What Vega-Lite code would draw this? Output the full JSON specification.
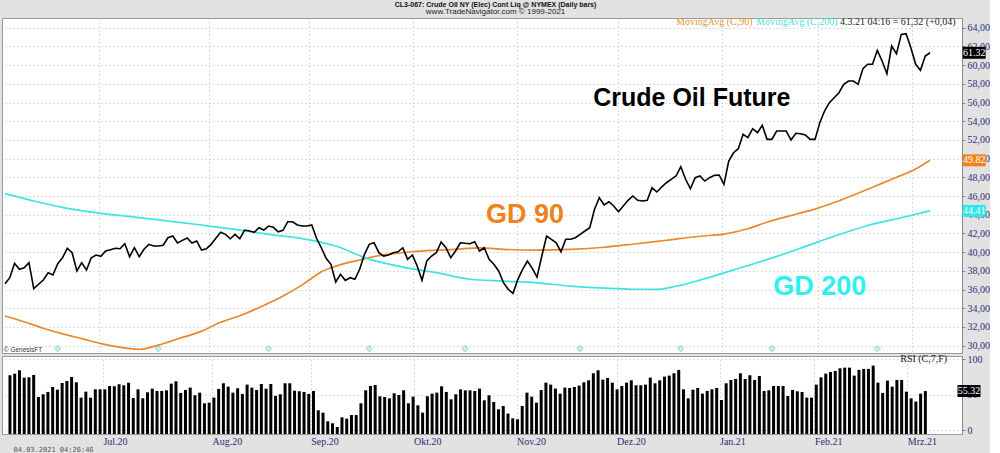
{
  "$schema": "https://vega.github.io/schema/vega-lite/v6.json",
  "background": "#e2e2e2",
  "padding": {"left": 1, "top": 0, "right": 0, "bottom": 0},
  "spacing": 3,
  "bounds": "flush",
  "config": {
    "view": {"fill": "white", "stroke": "#9a9a9a", "strokeWidth": 1},
    "font": "Liberation Serif",
    "axis": {"labelOverlap": false, "labelBound": false, "labelFlush": false}
  },
  "title": {
    "text": "CL3-067:  Crude Oil NY (Elec) Cont Liq @ NYMEX  (Daily bars)",
    "subtitle": "www.TradeNavigator.com © 1999-2021",
    "font": "Liberation Sans", "fontSize": 7, "fontWeight": "bold", "color": "#111111",
    "subtitleFont": "Liberation Sans", "subtitleFontSize": 8, "subtitleColor": "#222222",
    "subtitlePadding": 0, "offset": 1, "anchor": "middle"
  },
  "datasets": {
    "bars": [
      {"i":0,"close":36.62,"rsi":77.5},{"i":1,"close":37.26,"rsi":79.7},{"i":2,"close":38.80,"rsi":84.5},{"i":3,"close":38.16,"rsi":74.1},{"i":4,"close":38.33,"rsi":74.6},
      {"i":5,"close":38.87,"rsi":77.9},{"i":6,"close":36.09,"rsi":46.9},{"i":7,"close":36.56,"rsi":50.7},{"i":8,"close":37.02,"rsi":54.0},{"i":9,"close":37.80,"rsi":61.0},
      {"i":10,"close":37.55,"rsi":57.2},{"i":11,"close":38.76,"rsi":66.6},{"i":12,"close":39.40,"rsi":69.4},{"i":13,"close":40.41,"rsi":75.1},{"i":14,"close":39.94,"rsi":67.6},
      {"i":15,"close":37.98,"rsi":46.0},{"i":16,"close":38.87,"rsi":54.4},{"i":17,"close":38.09,"rsi":46.0},{"i":18,"close":39.40,"rsi":57.7},{"i":19,"close":39.69,"rsi":57.7},
      {"i":20,"close":39.55,"rsi":57.7},{"i":21,"close":40.12,"rsi":62.4},{"i":22,"close":40.26,"rsi":62.0},{"i":23,"close":40.41,"rsi":64.8},{"i":24,"close":40.36,"rsi":63.4},
      {"i":25,"close":40.90,"rsi":67.1},{"i":26,"close":39.51,"rsi":45.5},{"i":27,"close":40.47,"rsi":57.7},{"i":28,"close":39.51,"rsi":45.1},{"i":29,"close":40.30,"rsi":53.5},
      {"i":30,"close":40.83,"rsi":58.6},{"i":31,"close":40.65,"rsi":55.4},{"i":32,"close":40.65,"rsi":55.4},{"i":33,"close":40.73,"rsi":56.3},{"i":34,"close":41.54,"rsi":65.7},
      {"i":35,"close":41.72,"rsi":69.0},{"i":36,"close":40.97,"rsi":52.6},{"i":37,"close":41.26,"rsi":56.8},{"i":38,"close":41.51,"rsi":60.1},{"i":39,"close":40.97,"rsi":49.3},
      {"i":40,"close":41.19,"rsi":53.0},{"i":41,"close":40.22,"rsi":38.0},{"i":42,"close":40.36,"rsi":38.9},{"i":43,"close":40.83,"rsi":46.0},{"i":44,"close":41.48,"rsi":58.2},
      {"i":45,"close":42.12,"rsi":66.2},{"i":46,"close":41.90,"rsi":61.5},{"i":47,"close":41.43,"rsi":53.0},{"i":48,"close":41.90,"rsi":59.2},{"i":49,"close":41.43,"rsi":51.2},
      {"i":50,"close":42.36,"rsi":64.3},{"i":51,"close":42.26,"rsi":60.1},{"i":52,"close":42.12,"rsi":56.8},{"i":53,"close":42.61,"rsi":65.2},{"i":54,"close":42.36,"rsi":58.6},
      {"i":55,"close":42.79,"rsi":65.2},{"i":56,"close":42.65,"rsi":48.4},{"i":57,"close":42.18,"rsi":50.7},{"i":58,"close":42.33,"rsi":66.2},{"i":59,"close":43.25,"rsi":66.2},
      {"i":60,"close":43.25,"rsi":55.8},{"i":61,"close":42.90,"rsi":55.0},{"i":62,"close":42.79,"rsi":54.0},{"i":63,"close":42.79,"rsi":51.2},{"i":64,"close":42.90,"rsi":55.4},
      {"i":65,"close":41.48,"rsi":28.2},{"i":66,"close":40.47,"rsi":24.8},{"i":67,"close":39.34,"rsi":12.7},{"i":68,"close":38.70,"rsi":9.9},{"i":69,"close":36.80,"rsi":4.7},
      {"i":70,"close":37.63,"rsi":18.3},{"i":71,"close":36.98,"rsi":16.4},{"i":72,"close":37.26,"rsi":21.6},{"i":73,"close":37.09,"rsi":21.6},{"i":74,"close":38.16,"rsi":38.0},
      {"i":75,"close":39.76,"rsi":56.3},{"i":76,"close":40.83,"rsi":62.4},{"i":77,"close":41.00,"rsi":63.8},{"i":78,"close":39.94,"rsi":47.9},{"i":79,"close":39.58,"rsi":46.9},
      {"i":80,"close":39.69,"rsi":45.0},{"i":81,"close":39.94,"rsi":52.1},{"i":82,"close":40.04,"rsi":49.7},{"i":83,"close":40.47,"rsi":56.3},{"i":84,"close":39.23,"rsi":38.0},
      {"i":85,"close":39.69,"rsi":47.4},{"i":86,"close":38.51,"rsi":35.2},{"i":87,"close":36.98,"rsi":24.9},{"i":88,"close":39.05,"rsi":47.9},{"i":89,"close":39.58,"rsi":51.6},
      {"i":90,"close":39.94,"rsi":53.0},{"i":91,"close":41.08,"rsi":61.9},{"i":92,"close":40.47,"rsi":54.0},{"i":93,"close":39.40,"rsi":43.6},{"i":94,"close":40.12,"rsi":50.7},
      {"i":95,"close":41.00,"rsi":57.7},{"i":96,"close":40.94,"rsi":56.3},{"i":97,"close":40.90,"rsi":56.3},{"i":98,"close":41.11,"rsi":55.4},{"i":99,"close":40.12,"rsi":58.7},
      {"i":100,"close":40.47,"rsi":42.2},{"i":101,"close":39.23,"rsi":49.3},{"i":102,"close":38.70,"rsi":39.9},{"i":103,"close":37.98,"rsi":29.6},{"i":104,"close":36.73,"rsi":34.2},
      {"i":105,"close":36.02,"rsi":23.5},{"i":106,"close":35.59,"rsi":16.9},{"i":107,"close":37.09,"rsi":15.5},{"i":108,"close":38.16,"rsi":34.2},{"i":109,"close":39.05,"rsi":53.0},
      {"i":110,"close":38.27,"rsi":47.4},{"i":111,"close":37.33,"rsi":38.9},{"i":112,"close":39.58,"rsi":56.8},{"i":113,"close":41.72,"rsi":67.1},{"i":114,"close":41.37,"rsi":64.3},
      {"i":115,"close":41.00,"rsi":58.7},{"i":116,"close":40.04,"rsi":51.6},{"i":117,"close":41.37,"rsi":60.1},{"i":118,"close":41.37,"rsi":59.6},{"i":119,"close":41.54,"rsi":61.0},
      {"i":120,"close":41.90,"rsi":62.9},{"i":121,"close":42.26,"rsi":67.6},{"i":122,"close":42.61,"rsi":70.4},{"i":123,"close":44.58,"rsi":80.3},{"i":124,"close":45.82,"rsi":84.5},
      {"i":125,"close":45.04,"rsi":71.3},{"i":126,"close":45.39,"rsi":73.7},{"i":127,"close":44.93,"rsi":67.1},{"i":128,"close":44.32,"rsi":57.7},{"i":129,"close":44.93,"rsi":62.4},
      {"i":130,"close":45.54,"rsi":67.1},{"i":131,"close":46.00,"rsi":70.4},{"i":132,"close":45.54,"rsi":63.4},{"i":133,"close":45.47,"rsi":63.4},{"i":134,"close":45.54,"rsi":64.3},
      {"i":135,"close":46.89,"rsi":74.2},{"i":136,"close":46.43,"rsi":66.2},{"i":137,"close":46.96,"rsi":70.4},{"i":138,"close":47.42,"rsi":75.6},{"i":139,"close":47.79,"rsi":77.0},
      {"i":140,"close":48.14,"rsi":80.3},{"i":141,"close":49.13,"rsi":85.0},{"i":142,"close":47.79,"rsi":57.7},{"i":143,"close":46.78,"rsi":45.0},{"i":144,"close":47.96,"rsi":57.2},
      {"i":145,"close":48.14,"rsi":59.6},{"i":146,"close":47.60,"rsi":51.6},{"i":147,"close":47.96,"rsi":55.4},{"i":148,"close":48.21,"rsi":57.7},{"i":149,"close":48.25,"rsi":59.6},
      {"i":150,"close":47.25,"rsi":42.7},{"i":151,"close":49.74,"rsi":66.2},{"i":152,"close":50.63,"rsi":70.9},{"i":153,"close":51.06,"rsi":72.3},{"i":154,"close":52.60,"rsi":80.3},
      {"i":155,"close":52.24,"rsi":72.3},{"i":156,"close":53.20,"rsi":77.5},{"i":157,"close":52.77,"rsi":70.9},{"i":158,"close":53.56,"rsi":76.5},{"i":159,"close":52.06,"rsi":55.4},
      {"i":160,"close":52.06,"rsi":56.3},{"i":161,"close":52.95,"rsi":62.4},{"i":162,"close":52.95,"rsi":62.4},{"i":163,"close":52.95,"rsi":62.4},{"i":164,"close":51.99,"rsi":48.3},
      {"i":165,"close":52.71,"rsi":56.8},{"i":166,"close":52.66,"rsi":54.9},{"i":167,"close":52.52,"rsi":54.0},{"i":168,"close":52.06,"rsi":46.0},{"i":169,"close":52.06,"rsi":46.0},
      {"i":170,"close":53.84,"rsi":64.3},{"i":171,"close":55.09,"rsi":74.6},{"i":172,"close":55.98,"rsi":79.8},{"i":173,"close":56.51,"rsi":82.1},{"i":174,"close":57.05,"rsi":83.5},
      {"i":175,"close":57.95,"rsi":87.3},{"i":176,"close":58.30,"rsi":88.2},{"i":177,"close":58.30,"rsi":88.2},{"i":178,"close":57.95,"rsi":77.0},{"i":179,"close":59.61,"rsi":85.0},
      {"i":180,"close":60.09,"rsi":86.4},{"i":181,"close":60.09,"rsi":86.4},{"i":182,"close":61.58,"rsi":91.1},{"i":183,"close":60.44,"rsi":67.1},{"i":184,"close":59.08,"rsi":52.6},
      {"i":185,"close":62.04,"rsi":69.9},{"i":186,"close":61.22,"rsi":61.5},{"i":187,"close":63.29,"rsi":70.9},{"i":188,"close":63.36,"rsi":70.9},{"i":189,"close":61.86,"rsi":54.4},
      {"i":190,"close":60.09,"rsi":45.0},{"i":191,"close":59.44,"rsi":40.4},{"i":192,"close":60.97,"rsi":51.6},{"i":193,"close":61.32,"rsi":55.32}
    ],
    "ma90": [
      {"i":0,"v":33.17},{"i":4,"v":32.55},{"i":8,"v":31.86},{"i":12,"v":31.26},{"i":16,"v":30.75},{"i":20,"v":30.22},{"i":24,"v":29.83},{"i":28,"v":29.60},
      {"i":32,"v":30.05},{"i":36,"v":30.71},{"i":41,"v":31.55},{"i":45,"v":32.5},{"i":49,"v":33.2},{"i":54,"v":34.3},{"i":58,"v":35.3},{"i":62,"v":36.5},
      {"i":64,"v":37.2},{"i":66,"v":37.9},{"i":68,"v":38.33},{"i":70,"v":38.66},{"i":72,"v":38.93},{"i":75,"v":39.28},{"i":77,"v":39.52},{"i":79,"v":39.7},
      {"i":81,"v":39.84},{"i":85,"v":40.04},{"i":90,"v":40.2},{"i":94,"v":40.3},{"i":99,"v":40.45},{"i":104,"v":40.3},{"i":111,"v":40.22},{"i":118,"v":40.3},
      {"i":125,"v":40.52},{"i":131,"v":40.84},{"i":138,"v":41.27},{"i":145,"v":41.7},{"i":150,"v":41.93},{"i":155,"v":42.5},{"i":159,"v":43.2},{"i":165,"v":44.05},
      {"i":169,"v":44.6},{"i":173,"v":45.3},{"i":177,"v":46.1},{"i":182,"v":47.15},{"i":186,"v":48.0},{"i":190,"v":48.88},{"i":193,"v":49.82}
    ],
    "ma200": [
      {"i":0,"v":46.25},{"i":6,"v":45.47},{"i":13,"v":44.68},{"i":20,"v":44.15},{"i":27,"v":43.75},{"i":34,"v":43.33},{"i":41,"v":42.9},{"i":48,"v":42.44},
      {"i":55,"v":41.9},{"i":62,"v":41.45},{"i":69,"v":40.65},{"i":76,"v":39.25},{"i":83,"v":38.4},{"i":90,"v":37.8},{"i":97,"v":37.1},{"i":104,"v":36.9},
      {"i":111,"v":36.72},{"i":118,"v":36.36},{"i":125,"v":36.15},{"i":131,"v":36.03},{"i":136,"v":36.02},{"i":140,"v":36.35},{"i":145,"v":37.0},{"i":152,"v":38.1},
      {"i":159,"v":39.2},{"i":166,"v":40.42},{"i":173,"v":41.7},{"i":180,"v":42.85},{"i":187,"v":43.68},{"i":193,"v":44.41}
    ],
    "tags": [
      {"series":"price","v":61.32},{"series":"ma90","v":49.82},{"series":"ma200","v":44.41}
    ],
    "events": [
      {"i":11},{"i":32},{"i":55},{"i":76},{"i":96},{"i":120},{"i":141},{"i":160},{"i":182}
    ]
  },
  "vconcat": [
    {
      "width": 960,
      "height": 335,
      "layer": [
        {
          "data": {"name": "ma90"},
          "mark": {"type": "line", "color": "#e9892a", "strokeWidth": 1.7, "interpolate": "monotone"},
          "encoding": {
            "x": {"field": "i", "type": "quantitative", "title": null,
                  "scale": {"domain": [-0.626, 199.67], "nice": false, "zero": false},
                  "axis": {"values": [19.6, 42.6, 63.4, 85.1, 106.8, 127.9, 149.6, 169.6, 189.2], "tickCount": 40, "labels": false, "ticks": false, "domain": false,
                           "minExtent": 0, "maxExtent": 0, "offset": 0, "labelPadding": 0,
                           "grid": true, "gridColor": "#b8b8b8", "gridDash": [1, 3], "gridWidth": 1}},
            "y": {"field": "v", "type": "quantitative", "title": null,
                  "scale": {"domain": [29.21, 65.04], "nice": false, "zero": false},
                  "axis": {"orient": "right", "values": [30,32,34,36,38,40,42,44,46,48,50,52,54,56,58,60,62,64], "tickCount": 40,
                           "labelExpr": "replace(format(datum.value, '.2f'), '.', ',')",
                           "labelColor": "#2d2d75", "labelFont": "Liberation Serif", "labelFontSize": 10, "labelPadding": 2,
                           "domainColor": "#8a8a8a", "tickColor": "#8a8a8a", "tickSize": 3,
                           "grid": true, "gridColor": "#b8b8b8", "gridDash": [1, 3], "gridWidth": 1, "labelOverlap": false}}
          }
        },
        {
          "data": {"name": "ma200"},
          "mark": {"type": "line", "color": "#3fe3e3", "strokeWidth": 1.7, "interpolate": "monotone"},
          "encoding": {
            "x": {"field": "i", "type": "quantitative", "title": null},
            "y": {"field": "v", "type": "quantitative", "title": null}
          }
        },
        {
          "data": {"name": "bars"},
          "mark": {"type": "line", "color": "#000000", "strokeWidth": 1.6},
          "encoding": {
            "x": {"field": "i", "type": "quantitative", "title": null},
            "y": {"field": "close", "type": "quantitative", "title": null}
          }
        },
        {
          "data": {"name": "events"},
          "mark": {"type": "point", "shape": "diamond", "filled": false, "stroke": "#6fcfcf", "strokeWidth": 1, "size": 45},
          "encoding": {
            "x": {"field": "i", "type": "quantitative", "title": null},
            "y": {"datum": 29.68, "type": "quantitative"}
          }
        },
        {
          "data": {"name": "events"},
          "mark": {"type": "point", "shape": "cross", "filled": false, "stroke": "#6fcfcf", "strokeWidth": 0.8, "size": 12},
          "encoding": {
            "x": {"field": "i", "type": "quantitative", "title": null},
            "y": {"datum": 29.68, "type": "quantitative"}
          }
        },
        {
          "data": {"values": [{"label": "© GenesisFT"}]},
          "mark": {"type": "text", "font": "Liberation Sans", "fontSize": 6.5, "color": "#333333", "align": "left", "baseline": "middle"},
          "encoding": {"x": {"datum": -0.25, "type": "quantitative"}, "y": {"datum": 29.5, "type": "quantitative"}, "text": {"field": "label"}}
        },
        {
          "data": {"values": [{"label": "Crude Oil Future"}]},
          "mark": {"type": "text", "font": "Liberation Sans", "fontWeight": "bold", "fontSize": 25, "color": "#000000", "align": "center", "baseline": "middle"},
          "encoding": {"x": {"datum": 143.3, "type": "quantitative"}, "y": {"datum": 56.48, "type": "quantitative"}, "text": {"field": "label"}}
        },
        {
          "data": {"values": [{"label": "GD 90"}]},
          "mark": {"type": "text", "font": "Liberation Sans", "fontWeight": "bold", "fontSize": 27, "color": "#f0821e", "align": "center", "baseline": "middle"},
          "encoding": {"x": {"datum": 108.5, "type": "quantitative"}, "y": {"datum": 43.97, "type": "quantitative"}, "text": {"field": "label"}}
        },
        {
          "data": {"values": [{"label": "GD 200"}]},
          "mark": {"type": "text", "font": "Liberation Sans", "fontWeight": "bold", "fontSize": 27, "color": "#2ff0f0", "align": "center", "baseline": "middle"},
          "encoding": {"x": {"datum": 170.0, "type": "quantitative"}, "y": {"datum": 36.27, "type": "quantitative"}, "text": {"field": "label"}}
        },
        {
          "data": {"values": [{"label": "MovingAvg (C,90)"}]},
          "mark": {"type": "text", "font": "Liberation Serif", "fontSize": 10, "color": "#e8902e", "align": "left", "baseline": "middle"},
          "encoding": {"x": {"datum": 140.0, "type": "quantitative"}, "y": {"datum": 64.61, "type": "quantitative"}, "text": {"field": "label"}}
        },
        {
          "data": {"values": [{"label": "MovingAvg (C,200)"}]},
          "mark": {"type": "text", "font": "Liberation Serif", "fontSize": 10, "color": "#4fdede", "align": "left", "baseline": "middle"},
          "encoding": {"x": {"datum": 156.7, "type": "quantitative"}, "y": {"datum": 64.61, "type": "quantitative"}, "text": {"field": "label"}}
        },
        {
          "data": {"values": [{"label": "4.3.21 04:16 = 61,32 (+0,04)"}]},
          "mark": {"type": "text", "font": "Liberation Serif", "fontSize": 10, "color": "#222222", "align": "left", "baseline": "middle"},
          "encoding": {"x": {"datum": 174.2, "type": "quantitative"}, "y": {"datum": 64.61, "type": "quantitative"}, "text": {"field": "label"}}
        },
        {
          "data": {"name": "tags"},
          "mark": {"type": "point", "shape": "M-1,-0.52L1,-0.52L1,0.52L-1,0.52Z", "filled": true, "opacity": 1, "size": 529, "strokeWidth": 0},
          "encoding": {
            "x": {"datum": 202.2, "type": "quantitative"},
            "y": {"field": "v", "type": "quantitative", "title": null},
            "color": {"field": "series", "type": "nominal", "legend": null,
                      "scale": {"domain": ["price", "ma90", "ma200"], "range": ["#000000", "#f0821e", "#2fe8e8"]}}
          }
        },
        {
          "data": {"name": "tags"},
          "mark": {"type": "text", "font": "Liberation Serif", "fontSize": 10, "color": "#ffffff", "align": "center", "baseline": "middle"},
          "encoding": {
            "x": {"datum": 202.2, "type": "quantitative"},
            "y": {"field": "v", "type": "quantitative", "title": null},
            "text": {"field": "v", "type": "quantitative", "format": ",.2f"}
          }
        }
      ]
    },
    {
      "width": 960,
      "height": 78,
      "layer": [
        {
          "data": {"name": "bars"},
          "mark": {"type": "bar", "color": "#000000", "width": 3},
          "encoding": {
            "x": {"field": "i", "type": "quantitative",
                  "scale": {"domain": [-0.626, 199.67], "nice": false, "zero": false},
                  "axis": {"values": [19.6, 42.6, 63.4, 85.1, 106.8, 127.9, 149.6, 169.6, 189.2], "tickCount": 40,
                           "labelExpr": "datum.value < 30 ? 'Jul.20' : datum.value < 50 ? 'Aug.20' : datum.value < 70 ? 'Sep.20' : datum.value < 90 ? 'Okt.20' : datum.value < 110 ? 'Nov.20' : datum.value < 135 ? 'Dez.20' : datum.value < 160 ? 'Jan.21' : datum.value < 180 ? 'Feb.21' : 'Mrz.21'",
                           "labelAlign": "left", "labelColor": "#2d2d75", "labelFont": "Liberation Serif", "labelFontSize": 10, "labelPadding": 2,
                           "ticks": false, "domain": false, "grid": true, "gridColor": "#b8b8b8", "gridDash": [1, 3], "labelOverlap": false,
                           "title": "04.03.2021 04:26:46", "titleFont": "DejaVu Sans Mono", "titleFontSize": 7, "titleFontWeight": "normal", "titleColor": "#555555",
                           "titleAnchor": "start", "titleAlign": "left", "titleX": 11, "titleY": 15, "titleBaseline": "middle"}},
            "y": {"field": "rsi", "type": "quantitative", "title": null,
                  "scale": {"domain": [-5.2, 104.6], "nice": false, "zero": false},
                  "axis": {"orient": "right", "values": [0, 50, 100], "tickCount": 10, "format": "d",
                           "labelColor": "#2d2d75", "labelFont": "Liberation Serif", "labelFontSize": 10, "labelPadding": 2,
                           "domainColor": "#8a8a8a", "tickColor": "#8a8a8a", "tickSize": 3,
                           "grid": true, "gridColor": "#b8b8b8", "gridDash": [1, 3]}},
            "y2": {"datum": -5.2}
          }
        },
        {
          "data": {"values": [{"label": "RSI (C,7,F)"}]},
          "mark": {"type": "text", "font": "Liberation Serif", "fontSize": 10, "color": "#222222", "align": "right", "baseline": "middle"},
          "encoding": {"x": {"datum": 197.6, "type": "quantitative"}, "y": {"datum": 100.4, "type": "quantitative"}, "text": {"field": "label"}}
        },
        {
          "data": {"values": [{"v": 55.32}]},
          "mark": {"type": "point", "shape": "M-1,-0.52L1,-0.52L1,0.52L-1,0.52Z", "filled": true, "color": "#000000", "opacity": 1, "size": 529, "strokeWidth": 0},
          "encoding": {"x": {"datum": 202.2, "type": "quantitative"}, "y": {"field": "v", "type": "quantitative", "title": null}}
        },
        {
          "data": {"values": [{"v": 55.32}]},
          "mark": {"type": "text", "font": "Liberation Serif", "fontSize": 10, "color": "#ffffff", "align": "center", "baseline": "middle"},
          "encoding": {"x": {"datum": 202.2, "type": "quantitative"}, "y": {"field": "v", "type": "quantitative", "title": null},
                       "text": {"field": "v", "type": "quantitative", "format": ",.2f"}}
        }
      ]
    }
  ]
}
